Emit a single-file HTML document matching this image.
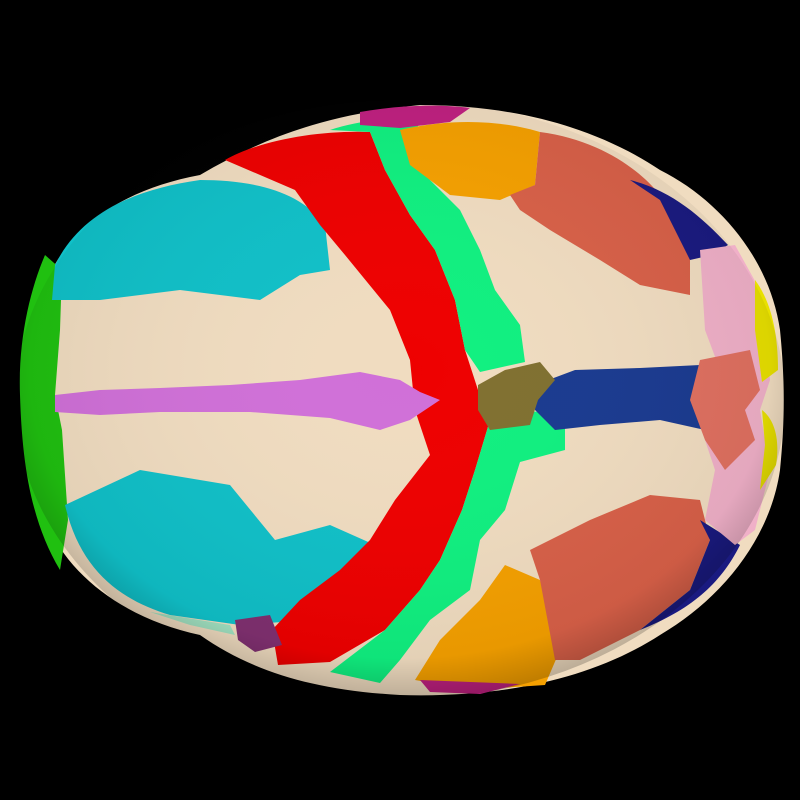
<!DOCTYPE html>
<html>
<head>
<meta charset="utf-8">
<style>
html,body{margin:0;padding:0;background:#000;width:800px;height:800px;overflow:hidden}
svg{display:block}
</style>
</head>
<body>
<svg width="800" height="800" viewBox="0 0 800 800">
<defs>
<radialGradient id="shade" cx="50%" cy="45%" r="60%">
<stop offset="0%" stop-color="#fff" stop-opacity="0"/>
<stop offset="80%" stop-color="#000" stop-opacity="0.05"/>
<stop offset="100%" stop-color="#000" stop-opacity="0.35"/>
</radialGradient>
</defs>
<rect width="800" height="800" fill="#000"/>
<path fill="#f0dcc0" d="M40,300 C60,230 120,190 200,175 C260,140 320,115 420,105 C520,105 600,130 660,170 C720,200 770,260 780,330 C785,380 785,420 780,470 C770,540 720,600 660,635 C590,680 500,698 400,695 C310,690 250,670 200,635 C130,620 70,580 45,520 C20,460 15,360 40,300 Z"/>
<path fill="#20c010" d="M45,255 C30,290 18,340 20,395 C22,460 30,520 60,570 L68,520 L62,430 L55,395 L60,330 L62,270 Z"/>
<path fill="#10c0c8" d="M55,265 C80,215 130,190 200,180 C250,180 300,190 325,225 L330,270 L300,275 L260,300 L180,290 L100,300 L52,300 Z"/>
<path fill="#10c0c8" d="M65,505 L140,470 L230,485 L275,540 L330,525 L375,545 L360,590 L310,620 L240,625 L170,615 C120,600 80,570 65,505 Z"/>
<path fill="#ee0000" d="M225,160 C260,140 320,130 370,132 L385,170 L410,215 L435,250 L455,300 L465,350 L478,390 L490,420 L475,470 L462,510 L440,560 L420,590 L385,630 L330,662 L278,665 L272,630 L300,600 L340,570 L370,540 L395,500 L430,455 L415,410 L410,360 L390,310 L345,255 L320,225 L295,190 Z"/>
<path fill="#10f080" d="M330,130 C360,120 390,118 420,120 L410,150 L430,180 L460,210 L480,250 L495,290 L520,325 L525,362 L480,372 L465,350 L455,300 L435,250 L410,215 L385,170 L370,132 Z"/>
<path fill="#10f080" d="M490,420 C505,410 540,408 565,418 L565,450 L520,462 L505,510 L480,540 L470,590 L430,620 L400,660 L380,683 L330,672 L385,630 L420,590 L440,560 L462,510 L475,470 Z"/>
<path fill="#f5a000" d="M400,130 C450,118 500,120 540,132 L535,185 L500,200 L450,195 L410,165 Z"/>
<path fill="#f5a000" d="M505,565 L540,580 L560,650 L545,685 L470,690 L415,680 L440,640 L480,600 Z"/>
<path fill="#d86048" d="M540,132 C600,140 640,170 660,195 L690,250 L690,295 L640,285 L600,260 L550,230 L520,210 L510,195 L535,185 Z"/>
<path fill="#d86048" d="M530,550 L590,520 L650,495 L700,500 L710,540 L690,590 L640,630 L580,660 L555,660 L540,580 Z"/>
<path fill="#1a1a80" d="M630,180 C670,190 700,215 728,245 L712,255 L690,260 L660,200 Z"/>
<path fill="#1a1a80" d="M700,520 L740,545 C720,585 690,610 640,630 L690,590 L710,540 Z"/>
<path fill="#1a3a90" d="M535,385 L575,370 L640,368 L700,365 L712,390 L705,430 L660,420 L600,425 L555,430 L535,410 Z"/>
<path fill="#807030" d="M478,385 L505,370 L540,362 L555,380 L538,400 L530,425 L490,430 L478,410 Z"/>
<path fill="#f0b0c8" d="M700,250 L735,245 L760,290 L770,380 L760,410 L770,470 L755,530 L735,545 L705,520 L715,470 L705,440 L700,400 L720,370 L705,330 Z"/>
<path fill="#e07060" d="M700,360 L750,350 L760,390 L745,410 L755,440 L725,470 L705,440 L690,400 Z"/>
<path fill="#e8e000" d="M755,280 C770,300 778,330 778,370 L762,382 L755,330 Z"/>
<path fill="#e8e000" d="M762,410 C775,420 780,440 776,465 L760,490 L765,445 Z"/>
<path fill="#d070d8" d="M55,395 L100,390 L160,388 L230,385 L300,380 L360,372 L400,380 L420,392 L440,400 L410,420 L380,430 L330,418 L250,412 L160,412 L100,415 L55,412 Z"/>
<path fill="#c02080" d="M360,112 C400,105 440,104 470,108 L450,122 L400,128 L360,125 Z"/>
<path fill="#c02080" d="M420,680 L520,684 L480,694 L430,692 Z"/>
<path fill="#803070" d="M235,620 L270,615 L282,645 L255,652 L238,640 Z"/>
<path fill="#a0e0c0" d="M150,612 L230,625 L235,635 L190,625 Z"/>
<ellipse cx="400" cy="400" rx="385" ry="300" fill="url(#shade)"/>
</svg>
</body>
</html>
